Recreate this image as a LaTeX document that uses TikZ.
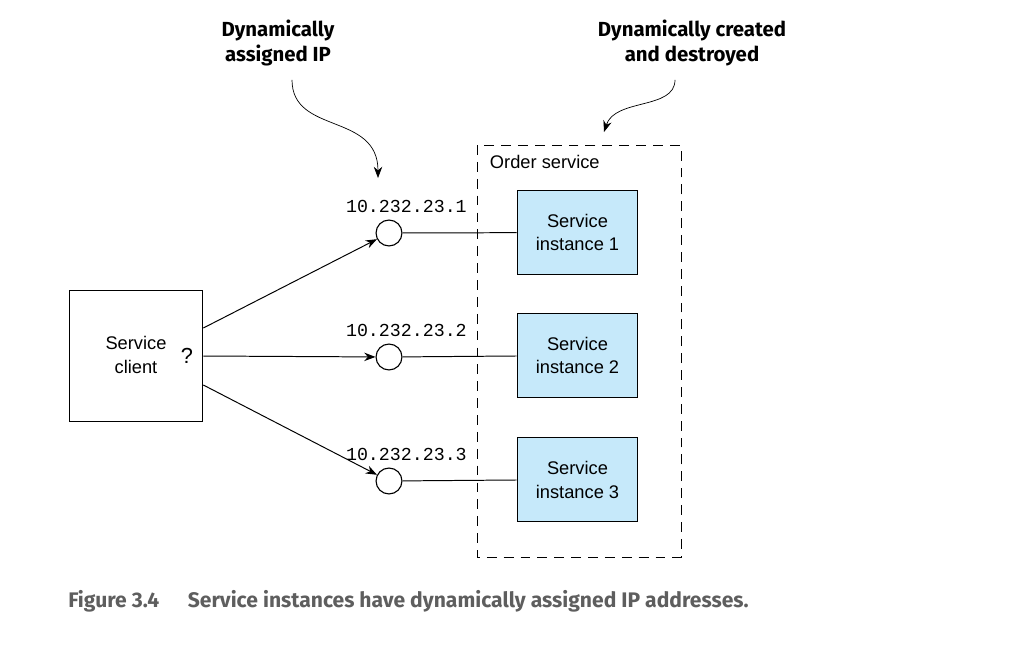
\documentclass[tikz,border=0pt]{standalone}
\usepackage{fontspec}
\setmainfont{Liberation Sans}
\setmonofont{Liberation Mono}
\newfontfamily\notefont{Fira Sans}
\usetikzlibrary{arrows.meta,positioning}
\definecolor{instblue}{HTML}{C6E9FA}
\definecolor{capgray}{HTML}{5E5E5E}
\tikzset{
  clientbox/.style={draw,line width=0.8pt,minimum width=134*0.7087pt,minimum height=132*0.7087pt},
  instbox/.style={draw,fill=instblue,line width=0.8pt,minimum width=121*0.7087pt,minimum height=85*0.7087pt,align=center,font=\fontsize{13}{17}\selectfont},
  ipcircle/.style={draw,circle,line width=0.8pt,minimum size=26*0.7087pt,inner sep=0pt},
  iplabel/.style={font=\ttfamily\fontsize{13}{15}\selectfont,inner sep=0pt},
  note/.style={font=\notefont\bfseries\fontsize{14.5}{17.5}\selectfont,align=center},
  callarrow/.style={-{Stealth[length=8pt,width=6pt]},line width=0.7pt},
  notearrow/.style={-{Stealth[length=8pt,width=6pt]},line width=0.5pt}
}
\begin{document}
\begin{tikzpicture}[x=0.025cm,y=-0.025cm]
\useasboundingbox (0,0) rectangle (1011,647);
% client
\node[clientbox] (client) at (136,356) {};
\node[align=center,font=\fontsize{13}{17}\selectfont] (clienttxt) at (136,355) {Service\\client};
\node[font=\fontsize{15.5}{17}\selectfont] (qmark) at (187,356) {?};
% order service
\draw[dashed,dash pattern=on 7pt off 5pt,line width=0.7pt] (477,145) rectangle (681,557);
\node[anchor=west,font=\fontsize{13}{15}\selectfont] (order) at (485,162) {Order service};
\node[instbox] (inst1) at (577.5,232.5) {Service\\instance 1};
\node[instbox] (inst2) at (577.5,355.5) {Service\\instance 2};
\node[instbox] (inst3) at (577.5,479.5) {Service\\instance 3};
% addresses
\node[ipcircle] (ip1) at (389,233) {};
\node[ipcircle] (ip2) at (389,357) {};
\node[ipcircle] (ip3) at (389,481) {};
\node[iplabel,anchor=base east] (lab1) at (467,212) {10.232.23.1};
\node[iplabel,anchor=base east] (lab2) at (467,336) {10.232.23.2};
\node[iplabel,anchor=base east] (lab3) at (467,460) {10.232.23.3};
\draw[line width=0.7pt] (ip1) -- (inst1);
\draw[line width=0.7pt] (ip2) -- (inst2);
\draw[line width=0.7pt] (ip3) -- (inst3);
\draw[callarrow] (client.east |- 0,328) -- (ip1);
\draw[callarrow] (client.east |- 0,356) -- (ip2);
\draw[callarrow] (client.east |- 0,385) -- (ip3);
% notes
\node[note] (noteip) at (278,43) {Dynamically\\assigned IP};
\node[note] (notelife) at (692,43) {Dynamically created\\and destroyed};
\coordinate (ipend) at (378,178);
\coordinate (lifeend) at (604,132);
\draw[notearrow] (noteip.south) ++(14,9) .. controls (292,135) and (378,112) .. (ipend);
\draw[notearrow] (notelife.south) ++(-17,9) .. controls (675,110) and (615,98) .. (lifeend);
% caption
\node[anchor=base west,text=capgray,font=\notefont\bfseries\fontsize{15}{17}\selectfont,inner sep=0pt] (caption) at (68,607) {Figure 3.4\hspace{1.35em}Service instances have dynamically assigned IP addresses.};
\end{tikzpicture}
\end{document}
